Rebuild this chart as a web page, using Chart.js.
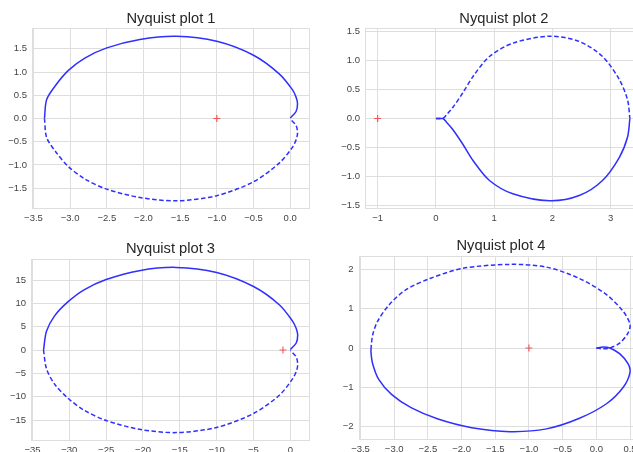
<!DOCTYPE html>
<html lang="en">

<head>
    <meta charset="UTF-8">
    <title>Nyquist plots</title>
    <script src="https://cdn.jsdelivr.net/npm/chart.js"></script>
    <style>
        html, body {
            margin: 0;
            padding: 0;
            width: 633px;
            height: 452px;
            overflow: hidden;
            background: #fff;
        }
        canvas {
            position: absolute;
        }
    </style>
</head>

<body>
    <canvas id="plot1" width="320" height="226" style="left:0;top:0"></canvas>
    <canvas id="plot2" width="334" height="226" style="left:320px;top:0"></canvas>
    <canvas id="plot3" width="320" height="226" style="left:0;top:226px"></canvas>
    <canvas id="plot4" width="334" height="226" style="left:320px;top:226px"></canvas>
    <script>
        // values
        const titles = ['Nyquist plot 1', 'Nyquist plot 2', 'Nyquist plot 3', 'Nyquist plot 4'];
        const critRe = [-1];
        const critIm = [0];

        // plot 1: solid = upper branch, dashed = lower branch
        const p1SolidRe = [-3.35, -3.32, -3.19, -3.02, -2.80, -2.50, -2.05, -1.55, -1.00, -0.50, -0.15, 0.03, 0.08, 0.10, 0.08, 0.00];
        const p1SolidIm = [0.00, 0.41, 0.73, 1.04, 1.30, 1.52, 1.70, 1.77, 1.66, 1.36, 0.96, 0.62, 0.46, 0.32, 0.15, 0.01];
        const p1DashRe = [-3.35, -3.32, -3.19, -3.02, -2.80, -2.50, -2.05, -1.55, -1.00, -0.50, -0.15, 0.03, 0.08, 0.10, 0.08, 0.00];
        const p1DashIm = [0.00, -0.41, -0.73, -1.04, -1.30, -1.52, -1.70, -1.77, -1.66, -1.36, -0.96, -0.62, -0.46, -0.32, -0.15, -0.01];
        const p1XTicks = [-3.5, -3.0, -2.5, -2.0, -1.5, -1.0, -0.5, 0.0];
        const p1YTicks = [-1.5, -1.0, -0.5, 0.0, 0.5, 1.0, 1.5];

        // plot 2: dashed = upper branch, solid = lower branch
        const p2DashRe = [0.00, 0.06, 0.12, 0.18, 0.29, 0.46, 0.64, 0.92, 1.32, 1.95, 2.46, 2.86, 3.15, 3.29, 3.33];
        const p2DashIm = [0.00, 0.005, 0.00, 0.06, 0.19, 0.44, 0.73, 1.07, 1.30, 1.42, 1.33, 1.07, 0.67, 0.32, 0.00];
        const p2SolidRe = [0.00, 0.06, 0.12, 0.18, 0.29, 0.46, 0.64, 0.92, 1.32, 1.95, 2.46, 2.86, 3.15, 3.29, 3.33];
        const p2SolidIm = [0.00, -0.005, 0.00, -0.06, -0.19, -0.44, -0.73, -1.07, -1.30, -1.42, -1.33, -1.07, -0.67, -0.32, 0.00];
        const p2XTicks = [-1, 0, 1, 2, 3];
        const p2YTicks = [-1.5, -1.0, -0.5, 0.0, 0.5, 1.0, 1.5];

        // plot 3: same shape as plot 1, ten times larger
        const p3SolidRe = [-33.5, -33.1, -32.0, -30.2, -28.0, -25.0, -20.5, -15.5, -10.0, -5.0, -1.5, 0.3, 0.8, 1.0, 0.8, 0.0];
        const p3SolidIm = [0.0, 4.0, 7.3, 10.3, 12.9, 15.1, 17.0, 17.7, 16.6, 13.6, 9.7, 6.2, 4.6, 3.2, 1.5, 0.1];
        const p3DashRe = [-33.5, -33.1, -32.0, -30.2, -28.0, -25.0, -20.5, -15.5, -10.0, -5.0, -1.5, 0.3, 0.8, 1.0, 0.8, 0.0];
        const p3DashIm = [0.0, -4.0, -7.3, -10.3, -12.9, -15.1, -17.0, -17.7, -16.6, -13.6, -9.7, -6.2, -4.6, -3.2, -1.5, -0.1];
        const p3XTicks = [-35, -30, -25, -20, -15, -10, -5, 0];
        const p3YTicks = [-15, -10, -5, 0, 5, 10, 15];

        // plot 4: dashed = upper branch, solid = lower branch, small loop at the origin
        const p4DashRe = [0.00, 0.10, 0.20, 0.35, 0.47, 0.50, 0.40, 0.15, -0.25, -0.74, -1.28, -1.98, -2.47, -2.83, -3.08, -3.25, -3.32, -3.34];
        const p4DashIm = [0.00, -0.02, 0.00, 0.13, 0.38, 0.60, 0.93, 1.36, 1.77, 2.06, 2.13, 2.03, 1.77, 1.48, 1.09, 0.67, 0.33, 0.08];
        const p4SolidRe = [-3.34, -3.345, -3.32, -3.23, -3.04, -2.75, -2.35, -1.85, -1.28, -0.74, -0.25, 0.15, 0.40, 0.50, 0.47, 0.35, 0.20, 0.10, 0.00];
        const p4SolidIm = [0.08, -0.10, -0.40, -0.80, -1.18, -1.52, -1.81, -2.03, -2.13, -2.06, -1.79, -1.42, -1.00, -0.62, -0.40, -0.15, 0.00, 0.025, 0.00];
        const p4XTicks = [-3.5, -3.0, -2.5, -2.0, -1.5, -1.0, -0.5, 0.0, 0.5];
        const p4YTicks = [-2, -1, 0, 1, 2];

        const fontFamily = '"Liberation Sans", Arial, sans-serif';
        const lineColor = '#2f2fff';
        const gridColor = '#dedede';

        const framePlugin = {
            id: 'frame',
            beforeDatasetsDraw(chart) {
                const { ctx, chartArea: a } = chart;
                const l = Math.round(a.left) + 0.5;
                const t = Math.round(a.top) + 0.5;
                const r = Math.round(a.right) - 0.5;
                const b = Math.round(a.bottom) - 0.5;
                ctx.save();
                ctx.strokeStyle = gridColor;
                ctx.lineWidth = 1;
                ctx.strokeRect(l, t, r - l, b - t);
                ctx.restore();
            }
        };

        const fmt = digits => v => {
            const r = Math.abs(v) < 1e-9 ? 0 : v;
            return r.toFixed(digits).replace('-', '\u2212');
        };

        const curve = (re, im, dashed) => ({
            data: re.map((x, i) => ({ x: x, y: im[i] })),
            showLine: true,
            borderColor: lineColor,
            borderWidth: 1.5,
            borderDash: dashed ? [4.5, 2.5] : [],
            pointRadius: 0,
            tension: 0.3,
            fill: false
        });

        const marker = () => ({
            data: critRe.map((x, i) => ({ x: x, y: critIm[i] })),
            showLine: false,
            pointStyle: 'cross',
            pointRadius: 3.5,
            borderColor: 'rgba(255, 40, 40, 0.75)',
            borderWidth: 1.2
        });

        const makeChart = (id, p) => {
            const ctx = document.getElementById(id).getContext('2d');
            new Chart(ctx, {
                type: 'scatter',
                data: { datasets: [marker(), ...p.datasets] },
                options: {
                    responsive: false,
                    animation: false,
                    events: [],
                    layout: { padding: { top: 0, left: 0, bottom: 0, right: p.padRight } },
                    plugins: {
                        legend: { display: false },
                        tooltip: { enabled: false },
                        title: {
                            display: true,
                            text: p.title,
                            fullSize: false,
                            color: '#262626',
                            font: { family: fontFamily, size: 14.7, weight: 'normal' },
                            padding: { top: p.titleTop, bottom: p.titleBottom }
                        }
                    },
                    scales: {
                        x: {
                            type: 'linear',
                            position: 'bottom',
                            min: p.xMin,
                            max: p.xMax,
                            bounds: 'data',
                            afterBuildTicks: s => { s.ticks = p.xTicks.map(v => ({ value: v })); },
                            afterFit: s => { s.height = p.xHeight; },
                            grid: { color: gridColor, lineWidth: 1, drawTicks: false },
                            border: { display: false },
                            ticks: {
                                autoSkip: false,
                                maxRotation: 0,
                                padding: 4,
                                color: '#444',
                                font: { family: fontFamily, size: 9.5 },
                                callback: fmt(p.xDigits)
                            }
                        },
                        y: {
                            type: 'linear',
                            position: 'left',
                            min: p.yMin,
                            max: p.yMax,
                            bounds: 'data',
                            afterBuildTicks: s => { s.ticks = p.yTicks.map(v => ({ value: v })); },
                            afterFit: s => { s.width = p.yWidth; },
                            grid: { color: gridColor, lineWidth: 1, drawTicks: false },
                            border: { display: false },
                            ticks: {
                                autoSkip: false,
                                padding: 5,
                                color: '#444',
                                font: { family: fontFamily, size: 9.5 },
                                callback: fmt(p.yDigits)
                            }
                        }
                    }
                },
                plugins: [framePlugin]
            });
        };

        makeChart('plot1', {
            title: titles[0],
            datasets: [curve(p1SolidRe, p1SolidIm, false), curve(p1DashRe, p1DashIm, true)],
            xMin: -3.52, xMax: 0.27, yMin: -1.947, yMax: 1.947,
            xTicks: p1XTicks, yTicks: p1YTicks, xDigits: 1, yDigits: 1,
            yWidth: 32, xHeight: 17, padRight: 10, titleTop: 10.1, titleBottom: 0.26
        });

        makeChart('plot2', {
            title: titles[1],
            datasets: [curve(p2DashRe, p2DashIm, true), curve(p2SolidRe, p2SolidIm, false)],
            xMin: -1.217, xMax: 3.55, yMin: -1.562, yMax: 1.562,
            xTicks: p2XTicks, yTicks: p2YTicks, xDigits: 0, yDigits: 1,
            yWidth: 45, xHeight: 17, padRight: 11.3, titleTop: 10.1, titleBottom: 0.26
        });

        makeChart('plot3', {
            title: titles[2],
            datasets: [curve(p3SolidRe, p3SolidIm, false), curve(p3DashRe, p3DashIm, true)],
            xMin: -35.2, xMax: 2.67, yMin: -19.5, yMax: 19.5,
            xTicks: p3XTicks, yTicks: p3YTicks, xDigits: 0, yDigits: 0,
            yWidth: 31, xHeight: 11, padRight: 10, titleTop: 14.5, titleBottom: 0.86
        });

        makeChart('plot4', {
            title: titles[3],
            datasets: [curve(p4DashRe, p4DashIm, true), curve(p4SolidRe, p4SolidIm, false)],
            xMin: -3.53, xMax: 0.70, yMin: -2.343, yMax: 2.343,
            xTicks: p4XTicks, yTicks: p4YTicks, xDigits: 1, yDigits: 0,
            yWidth: 38.5, xHeight: 12, padRight: 10.5, titleTop: 11.2, titleBottom: 1.16
        });
    </script>
</body>

</html>
